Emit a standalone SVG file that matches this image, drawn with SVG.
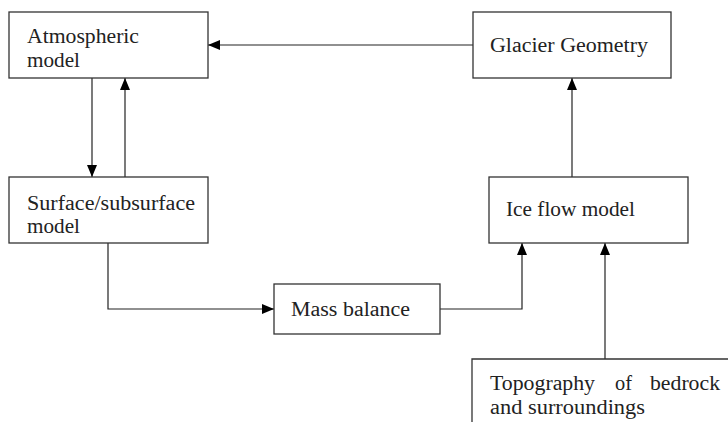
<svg xmlns="http://www.w3.org/2000/svg" width="728" height="422" viewBox="0 0 728 422">
<defs>
<marker id="arr" markerWidth="12" markerHeight="10" refX="12" refY="5" orient="auto" markerUnits="userSpaceOnUse">
<path d="M0,0 L12,5 L0,10 Z" fill="#000"/>
</marker>
<style>
.box{fill:#fff;stroke:#333;stroke-width:1.3}
.lbl{font-size:20px;fill:#222}
.edge{fill:none;stroke:#222;stroke-width:1.2}
</style>
</defs>
<rect width="728" height="422" fill="#fff"/>
<g id="connectors">
<path class="edge" d="M473,45 H208" marker-end="url(#arr)"/>
<path class="edge" d="M92,78 V177" marker-end="url(#arr)"/>
<path class="edge" d="M125,177 V78" marker-end="url(#arr)"/>
<path class="edge" d="M108,243 V309 H274" marker-end="url(#arr)"/>
<path class="edge" d="M440,309 H522 V243" marker-end="url(#arr)"/>
<path class="edge" d="M605,359 V243" marker-end="url(#arr)"/>
<path class="edge" d="M572,177 V78" marker-end="url(#arr)"/>
</g>
<g font-family="Liberation Serif, DejaVu Serif, serif">
<g id="atmospheric">
<rect class="box" x="9" y="12" width="199" height="66"/>
<text class="lbl" x="27" y="43" textLength="112" lengthAdjust="spacingAndGlyphs">Atmospheric</text>
<text class="lbl" x="27" y="67" textLength="53" lengthAdjust="spacingAndGlyphs">model</text>
</g>
<g id="glacier">
<rect class="box" x="473" y="12" width="198" height="66"/>
<text class="lbl" x="490" y="52" textLength="158" lengthAdjust="spacingAndGlyphs">Glacier Geometry</text>
</g>
<g id="surface">
<rect class="box" x="9" y="177" width="199" height="66"/>
<text class="lbl" x="27" y="210" textLength="168" lengthAdjust="spacingAndGlyphs">Surface/subsurface</text>
<text class="lbl" x="27" y="233" textLength="53" lengthAdjust="spacingAndGlyphs">model</text>
</g>
<g id="iceflow">
<rect class="box" x="489" y="177" width="199" height="66"/>
<text class="lbl" x="506" y="216" textLength="129" lengthAdjust="spacingAndGlyphs">Ice flow model</text>
</g>
<g id="massbalance">
<rect class="box" x="274" y="284" width="166" height="50"/>
<text class="lbl" x="291" y="316" textLength="119" lengthAdjust="spacingAndGlyphs">Mass balance</text>
</g>
<g id="topography">
<path class="box" d="M472,422 V359 H728"/>
<text class="lbl" y="390"><tspan x="490" textLength="105" lengthAdjust="spacingAndGlyphs">Topography</tspan><tspan x="615" textLength="17" lengthAdjust="spacingAndGlyphs">of</tspan><tspan x="650" textLength="70" lengthAdjust="spacingAndGlyphs">bedrock</tspan></text>
<text class="lbl" x="490" y="414" textLength="155" lengthAdjust="spacingAndGlyphs">and surroundings</text>
</g>
</g>
</svg>
